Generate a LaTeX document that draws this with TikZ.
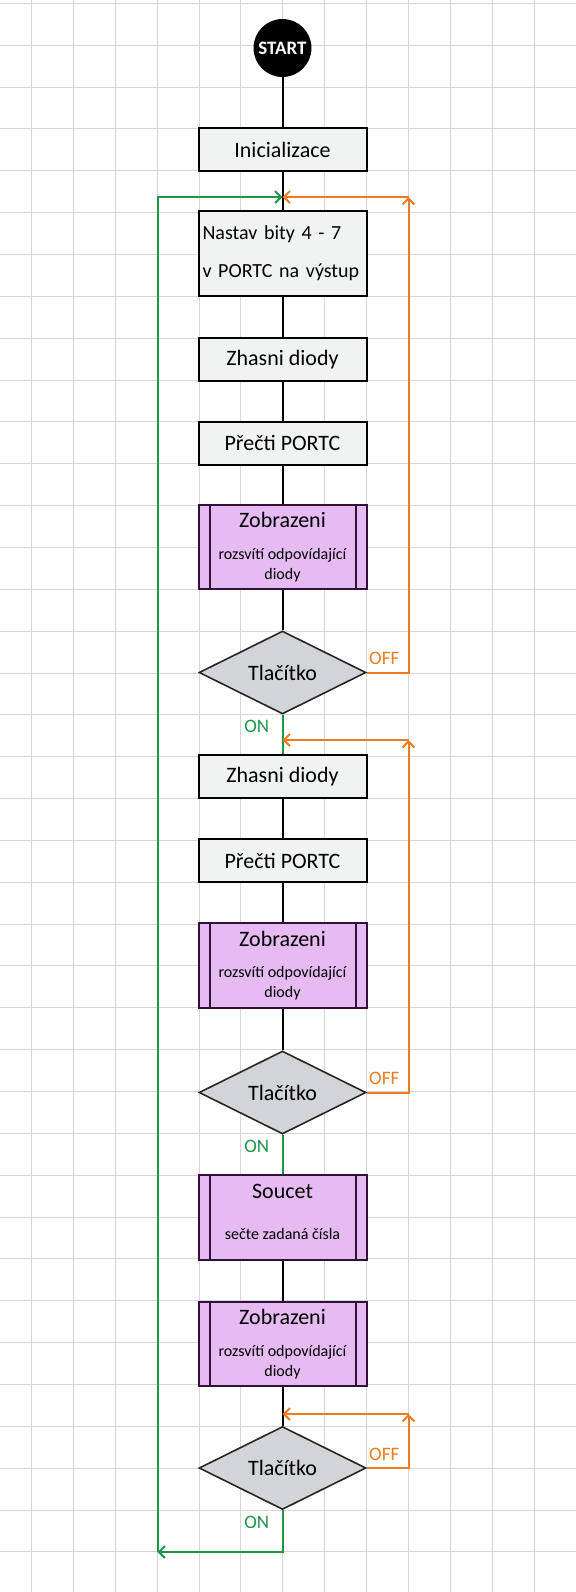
\documentclass[tikz,border=0pt]{standalone}
\usepackage{fontspec}
\setmainfont{Carlito}
\usetikzlibrary{shapes.geometric,arrows.meta}
\definecolor{oranzova}{RGB}{240,122,32}
\definecolor{zelena}{RGB}{30,150,74}
\definecolor{fialova}{RGB}{229,187,242}
\definecolor{fialokraj}{RGB}{48,18,56}
\definecolor{sedybox}{RGB}{241,243,242}
\definecolor{sedykos}{RGB}{211,212,215}
\definecolor{mrizka}{RGB}{214,214,214}
\tikzset{
  blok/.style={draw=black,fill=sedybox,line width=1pt,minimum width=84pt,
    minimum height=21.5pt,inner sep=0pt,font=\fontsize{11}{13}\selectfont},
  podprog/.style={blok,draw=fialokraj,fill=fialova,minimum height=42.25pt,
    path picture={\draw[fialokraj,line width=1pt]
      ([xshift=5.5pt]path picture bounding box.north west)
      -- ([xshift=5.5pt]path picture bounding box.south west)
      ([xshift=-5.5pt]path picture bounding box.north east)
      -- ([xshift=-5.5pt]path picture bounding box.south east);}},
  titul/.style={inner sep=0pt,anchor=base,font=\fontsize{11}{13}\selectfont},
  podtext/.style={inner sep=0pt,anchor=north,align=center,
    font=\fontsize{8}{10}\selectfont},
  kosoctverec/.style={diamond,draw=black!85,fill=sedykos,line width=0.8pt,
    minimum width=83.5pt,minimum height=41.5pt,inner sep=0pt,aspect=2,
    font=\fontsize{11}{13}\selectfont},
  spoj/.style={draw=black,line width=1pt},
  hrot/.style={-{Straight Barb[length=3pt,width=6pt]}},
  vypnuto/.style={spoj,draw=oranzova},
  zapnuto/.style={spoj,draw=zelena},
  stav/.style={inner sep=1pt,font=\fontsize{9.5}{11}\selectfont}
}

\begin{document}
\begin{tikzpicture}[x=0.5pt,y=-0.5pt]
  \useasboundingbox (0,0) rectangle (576,1592);
  \fill[white] (0,0) rectangle (576,1592);
  % mrizka
  \foreach \i in {0,...,13}
    \draw[mrizka,line width=0.4pt] ({31.3+41.9*\i},0) -- ({31.3+41.9*\i},1592);
  \foreach \j in {0,...,37}
    \draw[mrizka,line width=0.4pt] (0,{3.3+41.85*\j}) -- (576,{3.3+41.85*\j});

  % prvni cast
  \node[circle,fill=black,minimum size=29pt,inner sep=0pt,text=white,
    font=\fontsize{9.5}{10}\selectfont\bfseries] (start) at (282.5,48) {START};
  \node[blok] (init) at (282.5,149.5) {Inicializace};
  \coordinate (j1) at (282.5,197);
  \node[blok,minimum height=42.5pt,text width=80pt,inner xsep=2pt,
    align=left,font=\fontsize{10}{19}\selectfont] (nastav) at (282.5,253.5)
    {Nastav bity 4 - 7\\v~PORTC na výstup};
  \node[blok] (zhasni1) at (282.5,359.5) {Zhasni diody};
  \node[blok] (precti1) at (282.5,443) {Přečti PORTC\hspace{6pt}};
  \node[podprog] (zobr1) at (282.5,547) {};
  \node[kosoctverec] (tl1) at (282.5,672.5) {Tlačítko};

  % druha cast
  \coordinate (j2) at (282.5,740);
  \node[blok] (zhasni2) at (282.5,776.5) {Zhasni diody};
  \node[blok] (precti2) at (282.5,860.5) {Přečti PORTC\hspace{6pt}};
  \node[podprog] (zobr2) at (282.5,965.5) {};
  \node[kosoctverec] (tl2) at (282.5,1092.5) {Tlačítko};

  % treti cast
  \node[podprog] (soucet) at (282.5,1217.5) {};
  \node[podprog] (zobr3) at (282.5,1344) {};
  \coordinate (j3) at (282.5,1414);
  \node[kosoctverec] (tl3) at (282.5,1468) {Tlačítko};

  % texty podprogramu
  \foreach \p in {zobr1,zobr2,zobr3} {
    \node[titul] (\p-titul) at ([yshift=-12pt]\p.north) {Zobrazeni};
    \node[podtext] (\p-text) at ([yshift=-22pt]\p.north)
      {rozsvítí odpovídající\\diody};
  }
  \node[titul] (soucet-titul) at ([yshift=-12pt]soucet.north) {Soucet};
  \node[podtext] (soucet-text) at ([yshift=-27pt]soucet.north)
    {sečte zadaná čísla};

  % rohy smycek
  \coordinate (r1) at (408.5,197);
  \coordinate (r2) at (408.5,740);
  \coordinate (r3) at (408.5,1414);
  \coordinate (l1) at (157.5,1552);

  % spoje
  \foreach \a/\b in {start/init,init/nastav,nastav/zhasni1,zhasni1/precti1,
    precti1/zobr1,zobr1/tl1,zhasni2/precti2,precti2/zobr2,zobr2/tl2,
    soucet/zobr3,zobr3/tl3}
    \draw[spoj] (\a) -- (\b);
  \draw[zapnuto] (tl1.south) -- (zhasni2.north);
  \draw[zapnuto] (tl2.south) -- (soucet.north);
  \draw[zapnuto,hrot] (tl3.south) |- (l1);
  \draw[zapnuto,hrot] (l1) |- (j1);
  \foreach \t/\r/\j in {tl1/r1/j1,tl2/r2/j2,tl3/r3/j3} {
    \draw[vypnuto,hrot] (\t.east) -| (\r);
    \draw[vypnuto,hrot] (\r) -- (\j);
  }

  % popisky vetvi
  \foreach \t in {tl1,tl2,tl3} {
    \node[stav,text=oranzova,anchor=south west] (off-\t)
      at ([yshift=2.5pt]\t.east) {OFF};
    \node[stav,text=zelena,anchor=north east] (on-\t)
      at ([xshift=-5.5pt,yshift=-1.5pt]\t.south) {ON};
  }
\end{tikzpicture}
\end{document}
